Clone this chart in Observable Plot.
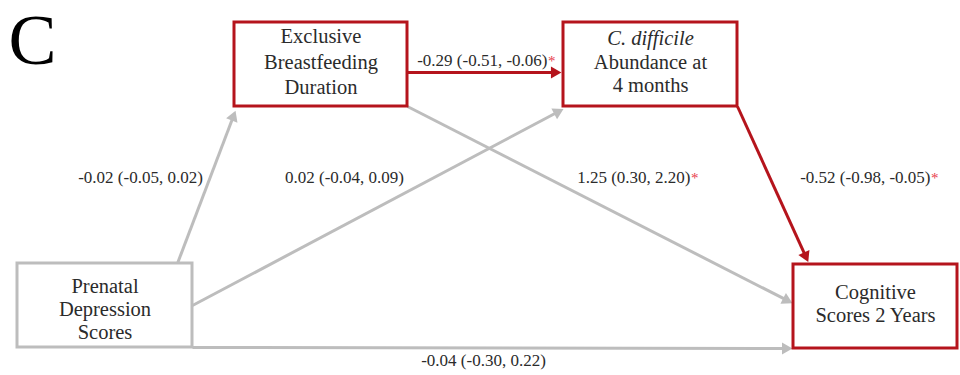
<!DOCTYPE html>
<html>
<head>
<meta charset="utf-8">
<script src="https://cdn.jsdelivr.net/npm/d3@7"></script>
<script src="https://cdn.jsdelivr.net/npm/@observablehq/plot@0.6"></script>
<style>
  html, body { margin: 0; padding: 0; background: #fff; }
  #chart svg { display: block; }
</style>
</head>
<body>
<div id="chart"></div>
<script>
// ---------- data ----------
const panelLabel = "C";
const nodeNames = ["Prenatal Depression Scores", "Exclusive Breastfeeding Duration", "C. difficile Abundance at 4 months", "Cognitive Scores 2 Years"];
const nodeLines = [["Prenatal", "Depression", "Scores"], ["Exclusive", "Breastfeeding", "Duration"], ["C. difficile", "Abundance at", "4 months"], ["Cognitive", "Scores 2 Years"]];
const italicLines = ["C. difficile"];
const nodeOnPath = [false, true, true, true];

const edgeFrom = [0, 0, 1, 1, 2, 0];
const edgeTo = [1, 2, 2, 3, 3, 3];
const estimates = [-0.02, 0.02, -0.29, 1.25, -0.52, -0.04];
const ciLower = [-0.05, -0.04, -0.51, 0.30, -0.98, -0.30];
const ciUpper = [0.02, 0.09, -0.06, 2.20, -0.05, 0.22];
const edgeSignificant = [false, false, true, true, true, false];
const edgeOnPath = [false, false, true, false, true, false];

// ---------- layout (diagram geometry, pixel space) ----------
const W = 960, H = 375;
const nodeBoxes = [
  {x1: 17, y1: 263, x2: 192, y2: 347, baseShift: 10, gap: 23},
  {x1: 234, y1: 22, x2: 407, y2: 106, baseShift: 4, gap: 25.5},
  {x1: 563, y1: 22, x2: 737, y2: 106, baseShift: 4, gap: 23.5},
  {x1: 793, y1: 264, x2: 957, y2: 348, baseShift: 3.5, gap: 23}
];
// ports as fractions of source / target boxes
const edgePorts = [
  {from: [0.914, 0], to: [0.006, 1.05]},
  {from: [1, 0.5], to: [0, 1.03]},
  {from: [1, 0.595], to: [-0.012, 0.595]},
  {from: [1, 1], to: [-0.006, 0.46]},
  {from: [1, 1], to: [0.09, -0.03]},
  {from: [1, 1], to: [-0.006, 1]}
];
// label anchor: [x, baseline y]; significant labels anchored at their end
const labelAnchors = [[140, 182], [344, 182], [547, 65], [690, 182], [930, 182], [483, 365]];

const RED = "#b5141c", GRAY = "#bdbdbd", INK = "#2b2b2b", STAR = "#e8404c";
const FONT = "Liberation Serif, Times New Roman, serif";

// ---------- derived tables ----------
const port = (b, f) => [b.x1 + f[0] * (b.x2 - b.x1), b.y1 + f[1] * (b.y2 - b.y1)];
const headR = 4.5;
const headTip = 2 * headR * Math.sqrt(Math.PI / (3 * Math.sqrt(3)));

const nodes = nodeNames.map((name, i) => ({name, ...nodeBoxes[i], color: nodeOnPath[i] ? RED : GRAY}));

const nodeText = nodes.flatMap((n, i) => {
  const lines = nodeLines[i];
  const cx = (n.x1 + n.x2) / 2, cy = (n.y1 + n.y2) / 2 + n.baseShift;
  return lines.map((t, j) => ({
    text: t, x: cx, y: cy + (j - (lines.length - 1) / 2) * n.gap, italic: italicLines.includes(t)
  }));
});

const edges = edgeFrom.map((f, i) => {
  const [x1, y1] = port(nodeBoxes[f], edgePorts[i].from);
  const [x2, y2] = port(nodeBoxes[edgeTo[i]], edgePorts[i].to);
  const len = Math.hypot(x2 - x1, y2 - y1);
  const ux = (x2 - x1) / len, uy = (y2 - y1) / len;
  const fmt = v => v.toFixed(2);
  return {
    x1, y1, x2: x2 - ux * headTip, y2: y2 - uy * headTip,
    hx: x2 - ux * headTip, hy: y2 - uy * headTip,
    rotate: Math.atan2(ux, -uy) * 180 / Math.PI,
    color: edgeOnPath[i] ? RED : GRAY,
    onPath: edgeOnPath[i],
    label: `${fmt(estimates[i])} (${fmt(ciLower[i])}, ${fmt(ciUpper[i])})`,
    lx: labelAnchors[i][0], ly: labelAnchors[i][1],
    sig: edgeSignificant[i]
  };
});

// ---------- plot ----------
const chart = Plot.plot({
  width: W, height: H,
  margin: 0,
  x: {domain: [0, W], range: [0, W], axis: null},
  y: {domain: [0, H], range: [0, H], axis: null},
  color: {type: "identity"},
  style: {fontFamily: FONT, background: "white"},
  marks: [
    Plot.link(edges, {x1: "x1", y1: "y1", x2: "x2", y2: "y2", stroke: "color", strokeWidth: 3, sort: d => d.onPath ? 1 : 0}),
    Plot.dot(edges, {x: "hx", y: "hy", rotate: "rotate", symbol: "triangle", r: headR, fill: "color", stroke: "none"}),
    Plot.rect(nodes, {x1: "x1", y1: "y1", x2: "x2", y2: "y2", fill: "white", stroke: "color", strokeWidth: 3}),
    Plot.text(nodeText.filter(d => !d.italic), {x: "x", y: "y", text: "text", lineAnchor: "bottom", fontSize: 20.5, fill: INK}),
    Plot.text(nodeText.filter(d => d.italic), {x: "x", y: "y", text: "text", lineAnchor: "bottom", fontSize: 20.5, fill: INK, fontStyle: "italic"}),
    Plot.text(edges.filter(d => !d.sig), {x: "lx", y: "ly", text: "label", lineAnchor: "bottom", textAnchor: "middle", fontSize: 17, fill: INK}),
    Plot.text(edges.filter(d => d.sig), {x: "lx", y: "ly", text: "label", lineAnchor: "bottom", textAnchor: "end", fontSize: 17, fill: INK}),
    Plot.text(edges.filter(d => d.sig), {x: "lx", y: "ly", text: () => "*", lineAnchor: "bottom", textAnchor: "start", fontSize: 15, fill: STAR, dx: 0.5}),
    Plot.text([panelLabel], {x: () => 8, y: () => 63, text: d => d, textAnchor: "start", lineAnchor: "bottom", fontSize: 72, fill: "#000"})
  ]
});
document.getElementById("chart").appendChild(chart);
</script>
</body>
</html>
